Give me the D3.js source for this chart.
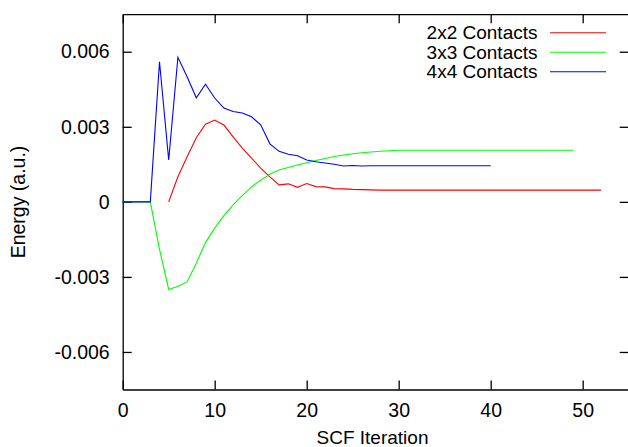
<!doctype html>
<html>
<head>
<meta charset="UTF-8">
<script src="https://d3js.org/d3.v7.min.js"></script>
<style>
  body { margin: 0; background: #fff; }
  svg { display: block; font-family: "Liberation Sans", Arial, Helvetica, sans-serif; }
  .axis text { font-size: 19.5px; fill: #000; }
  .axis path, .axis line { stroke: #000; stroke-width: 1.3; }
</style>
</head>
<body>
<svg id="chart"></svg>
<script>
// data
const seriesNames = ["2x2 Contacts", "3x3 Contacts", "4x4 Contacts"];
const seriesColors = ["#ff0000", "#00ff00", "#0000ff"];

// 2x2: starts at iteration 5
const start2x2 = 5;
const energy2x2 = [0, 0.0010, 0.0018, 0.00256, 0.0031, 0.00327, 0.00307, 0.0026, 0.00215, 0.00175,
  0.00135, 0.0010, 0.00068, 0.00072, 0.00058, 0.00073, 0.00061, 0.0006, 0.00053, 0.00052,
  0.0005, 0.00049, 0.00048, 0.00047, 0.00047, 0.00047, 0.00047, 0.00047, 0.00047, 0.00047,
  0.00047, 0.00047, 0.00047, 0.00047, 0.00047, 0.00047, 0.00047, 0.00047, 0.00047, 0.00047,
  0.00047, 0.00047, 0.00047, 0.00047, 0.00047, 0.00047, 0.00047, 0.00047];

// 3x3: starts at iteration 0
const start3x3 = 0;
const energy3x3 = [0, 0, 0, 0, -0.0019, -0.0035, -0.00337, -0.0032, -0.00245, -0.00163,
  -0.00105, -0.00055, -0.00012, 0.00025, 0.0006, 0.00087, 0.0011, 0.00127, 0.00137, 0.00147,
  0.00156, 0.00165, 0.00173, 0.00181, 0.00187, 0.00192, 0.00196, 0.00199, 0.00202, 0.00204,
  0.00206, 0.00206, 0.00206, 0.00206, 0.00206, 0.00206, 0.00206, 0.00206, 0.00206, 0.00206,
  0.00206, 0.00206, 0.00206, 0.00206, 0.00206, 0.00206, 0.00206, 0.00206, 0.00206, 0.00206];

// 4x4: starts at iteration 0
const start4x4 = 0;
const energy4x4 = [0, 0, 0, 0, 0.0056, 0.00167, 0.00578, 0.005, 0.00416, 0.0047,
  0.00415, 0.00375, 0.00361, 0.00355, 0.0034, 0.00308, 0.00232, 0.00202, 0.0019, 0.00184,
  0.00167, 0.0016, 0.00155, 0.0015, 0.00143, 0.00145, 0.00143, 0.00144, 0.00144, 0.00144,
  0.00144, 0.00144, 0.00144, 0.00144, 0.00144, 0.00144, 0.00144, 0.00144, 0.00144, 0.00144,
  0.00144];

const xTicks = [0, 10, 20, 30, 40, 50];
const yTicks = [-0.006, -0.003, 0, 0.003, 0.006];
const yTickLabels = ["-0.006", "-0.003", "0", "0.003", "0.006"];

(function(){
  const W = 628, H = 447;
  const left = 122.7, top = 14.2, right = 628.7, bottom = 389.5;

  const svg = d3.select("#chart").attr("width", W).attr("height", H);

  const x = d3.scaleLinear().domain([0, 55]).range([left, right]);
  const y = d3.scaleLinear().domain([-0.0075, 0.0075]).range([bottom, top]);

  // axes, ticks pointing inward on all four sides
  svg.append("g").attr("class", "axis")
    .attr("transform", "translate(0," + bottom + ")")
    .call(d3.axisBottom(x).tickValues(xTicks).tickSizeInner(-9).tickSizeOuter(0).tickPadding(13.5));
  svg.append("g").attr("class", "axis")
    .attr("transform", "translate(0," + top + ")")
    .call(d3.axisTop(x).tickValues(xTicks).tickSizeInner(-9).tickSizeOuter(0).tickFormat(""));
  svg.append("g").attr("class", "axis")
    .attr("transform", "translate(" + left + ",0)")
    .call(d3.axisLeft(y).tickValues(yTicks).tickSizeInner(-9).tickSizeOuter(0).tickPadding(13)
      .tickFormat(function(d, i){ return yTickLabels[i]; }));
  svg.append("g").attr("class", "axis")
    .attr("transform", "translate(" + right + ",0)")
    .call(d3.axisRight(y).tickValues(yTicks).tickSizeInner(-9).tickSizeOuter(0).tickFormat(""));

  svg.selectAll(".axis text").attr("font-family", null).attr("font-size", null);

  // axis titles
  svg.append("text")
    .attr("x", 372.5).attr("y", 444)
    .attr("text-anchor", "middle")
    .style("font-size", "19px")
    .text("SCF Iteration");
  svg.append("text")
    .attr("transform", "translate(25,202) rotate(-90)")
    .attr("text-anchor", "middle")
    .style("font-size", "19.5px")
    .text("Energy (a.u.)");

  const series = [
    energy2x2.map(function(v, i){ return [start2x2 + i, v]; }),
    energy3x3.map(function(v, i){ return [start3x3 + i, v]; }),
    energy4x4.map(function(v, i){ return [start4x4 + i, v]; })
  ];

  const line = d3.line()
    .x(function(d){ return x(d[0]); })
    .y(function(d){ return y(d[1]); });

  svg.selectAll(".series")
    .data(series)
    .enter().append("path")
    .attr("class", "series")
    .attr("d", line)
    .attr("fill", "none")
    .attr("stroke", function(d, i){ return seriesColors[i]; })
    .attr("stroke-width", 1.1);

  // legend
  const legend = svg.selectAll(".legend")
    .data(seriesNames)
    .enter().append("g")
    .attr("class", "legend")
    .attr("transform", function(d, i){ return "translate(0," + (32.7 + i * 19.5) + ")"; });
  legend.append("text")
    .attr("x", 537.5).attr("y", 6.7)
    .attr("text-anchor", "end")
    .style("font-size", "19px")
    .text(function(d){ return d; });
  legend.append("line")
    .attr("x1", 550).attr("x2", 606)
    .attr("stroke", function(d, i){ return seriesColors[i]; })
    .attr("stroke-width", 1.1);
})();
</script>
</body>
</html>
